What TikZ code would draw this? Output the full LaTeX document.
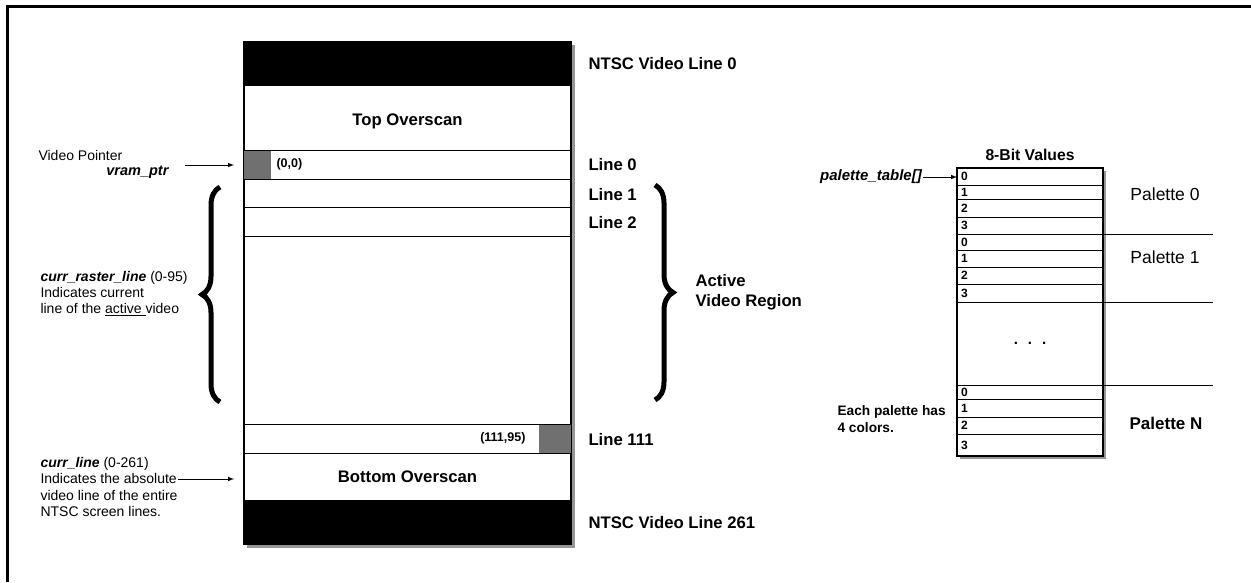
\documentclass[tikz,border=0pt]{standalone}
\usepackage{fontspec}
\setmainfont{Liberation Sans}
\usetikzlibrary{positioning, decorations.pathreplacing}
\definecolor{cellgray}{RGB}{112,112,112}
\definecolor{shadowgray}{RGB}{150,150,150}
\tikzset{
  band/.style={draw, fill=white, line width=1pt, minimum width=327pt, inner sep=0pt, outer sep=0pt},
  cell/.style={fill=cellgray, minimum width=27pt, minimum height=28pt, inner sep=0pt, outer sep=0pt},
  prow/.style={draw, fill=white, line width=1pt, minimum width=146pt, text width=138pt, inner sep=0pt, outer sep=0pt,
    align=left, font=\fontsize{12}{12}\selectfont\bfseries},
  bigbold/.style={font=\fontsize{16.7}{20}\selectfont\bfseries},
  tag/.style={bigbold, anchor=west},
  note/.style={font=\fontsize{14}{16.3}\selectfont, align=left, anchor=west},
  coord/.style={font=\fontsize{12.5}{14}\selectfont\bfseries},
  curly/.style={decorate, decoration={brace, amplitude=18pt}, line width=5pt},
}
\begin{document}
\begin{tikzpicture}[x=1pt, y=-1pt, >=latex]
\useasboundingbox (0,0) rectangle (1251,582);
% page frame, cut off right and bottom
\draw[line width=3pt] (7,582) -- (7,6) -- (1251,6);

% ---- screen memory column ----
\fill[shadowgray] (247,45) rectangle (575,548);
\node[band, fill=black, minimum height=43pt] (topblank) at (407.5,63.5) {};
\node[band, minimum height=65pt, below=0pt of topblank] (topscan) {};
\node[band, minimum height=29pt, below=0pt of topscan] (line0) {};
\node[band, minimum height=28.5pt, below=0pt of line0] (line1) {};
\node[band, minimum height=29pt, below=0pt of line1] (line2) {};
\node[band, minimum height=187.5pt, below=0pt of line2] (active) {};
\node[band, minimum height=29pt, below=0pt of active] (line111) {};
\node[band, minimum height=47.5pt, bigbold, below=0pt of line111] (botscan) {Bottom Overscan};
\node[band, fill=black, minimum height=43.5pt, below=0pt of botscan] (botblank) {};
\draw[line width=1.3pt] (topblank.north west) rectangle (botblank.south east);
\node[bigbold] (toplabel) at ([yshift=-4pt]topscan.center) {Top Overscan};

% first and last pixel
\node[cell, anchor=west] (ptr0) at (line0.west) {};
\node[cell, minimum width=32pt, anchor=east] (ptr111) at (line111.east) {};
\node[coord, right=2pt of ptr0] (orig) {(0,0)};
\node[coord, left=10pt of ptr111] (last) {(111,95)};

% line tags on the right
\node[tag, right=14pt of topblank] (ntsc0) {NTSC Video Line 0};
\node[tag, right=14pt of line0] (tag0) {Line 0};
\node[tag, right=14pt of line1, yshift=-1pt] (tag1) {Line 1};
\node[tag, right=14pt of line2, yshift=-1pt] (tag2) {Line 2};
\node[tag, right=14pt of line111, yshift=-1pt] (tag111) {Line 111};
\node[tag, right=14pt of botblank] (ntsc261) {NTSC Video Line 261};

% braces round the active lines
\draw[curly] (655,185) -- (655,400);
\draw[curly] (220,402) -- (220,187);
\node[tag, align=left] (region) at (692,292) {Active\\Video Region};

% notes on the left
\node[note] (vptr) at (35,155) {Video Pointer};
\node[note, anchor=east, font=\fontsize{14.5}{16}\selectfont\bfseries\itshape] (vram) at (172,172) {vram\_ptr};
\coordinate (vtail) at (185,165);
\draw[->, line width=1pt, shorten >=10pt] (vtail) -- (vtail -| line0.west);
\node[note] (raster) at (37,293.5) {{\bfseries\itshape curr\_raster\_line} (0-95)\\Indicates current\\line of the \underline{active\ }video};
\node[note] (curline) at (37,487) {{\bfseries\itshape curr\_line} (0-261)\\Indicates the absolute\\video line of the entire\\NTSC screen lines.};
\coordinate (ctail) at (178,479);
\draw[->, line width=1pt, shorten >=10pt] (ctail) -- (ctail -| botscan.west);

% ---- palette table ----
\fill[shadowgray] (960,171) rectangle (1106,459);
\node[prow, minimum height=17pt] (p00) at (1030,176.5) {0};
\node[prow, minimum height=14.5pt, below=0pt of p00] (p01) {1};
\node[prow, minimum height=17.5pt, below=0pt of p01] (p02) {2};
\node[prow, minimum height=17pt, below=0pt of p02] (p03) {3};
\node[prow, minimum height=16pt, below=0pt of p03] (p10) {0};
\node[prow, minimum height=17pt, below=0pt of p10] (p11) {1};
\node[prow, minimum height=17pt, below=0pt of p11] (p12) {2};
\node[prow, minimum height=18pt, below=0pt of p12] (p13) {3};
\node[prow, minimum height=83pt, align=center, font=\fontsize{15}{16}\selectfont\bfseries, below=0pt of p13] (pdots) {.\ \ .\ \ .};
\node[prow, minimum height=14.5pt, below=0pt of pdots] (pN0) {0};
\node[prow, minimum height=17.5pt, below=0pt of pN0] (pN1) {1};
\node[prow, minimum height=17pt, below=0pt of pN1] (pN2) {2};
\node[prow, minimum height=22pt, below=0pt of pN2] (pN3) {3};
\draw[line width=1.3pt] (p00.north west) rectangle (pN3.south east);
\draw[line width=1pt] (p03.south east) -- ++(110,0);
\draw[line width=1pt] (p13.south east) -- ++(110,0);
\draw[line width=1pt] (pdots.south east) -- ++(110,0);

\node[font=\fontsize{15.7}{18}\selectfont\bfseries, above=4pt of p00] (bits) {8-Bit Values};
\node[anchor=east, inner sep=1pt, font=\fontsize{15}{16}\selectfont\bfseries\itshape] (ptab) at (923,177) {palette\_table[]};
\draw[->, line width=1pt] (ptab.east) -- (ptab.east -| p00.west);
\node[font=\fontsize{17.5}{20}\selectfont] (pal0) at (1165,194) {Palette 0};
\node[font=\fontsize{17.5}{20}\selectfont] (pal1) at (1165,257) {Palette 1};
\node[font=\fontsize{17}{20}\selectfont\bfseries] (palN) at (1166,423) {Palette N};
\node[note, font=\fontsize{13.7}{17}\selectfont\bfseries] (each) at (834,419.5) {Each palette has\\4 colors.};
\end{tikzpicture}
\end{document}
